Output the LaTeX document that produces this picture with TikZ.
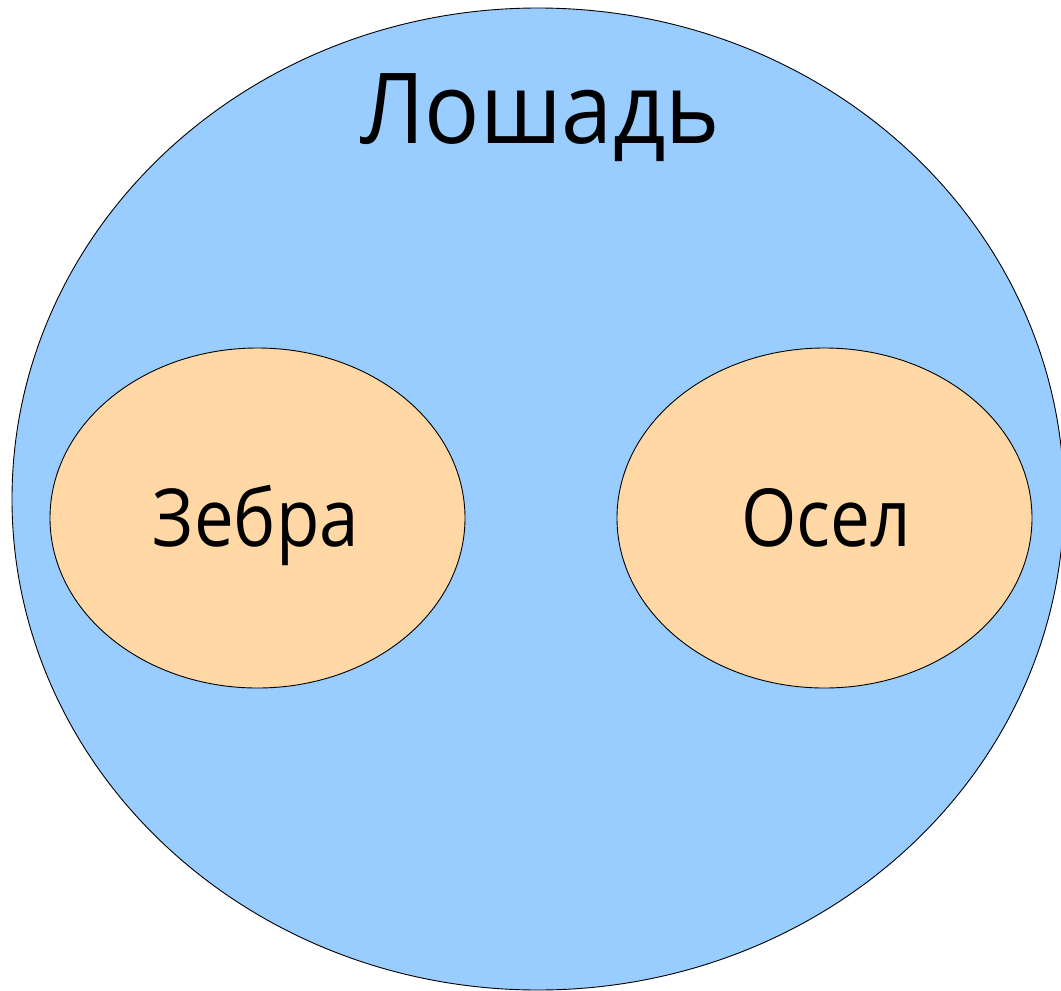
\documentclass[tikz,border=0pt]{standalone}
\usepackage{fontspec}
\setmainfont{Open Sans}
\usetikzlibrary{shapes.geometric}
\definecolor{horseblue}{HTML}{99CCFF}
\definecolor{subfill}{HTML}{FFD8A6}
\tikzset{
  outerset/.style={ellipse, draw=black, line width=0.9pt, fill=horseblue, inner sep=0pt, minimum width=1052pt, minimum height=982pt},
  innerset/.style={ellipse, draw=black, line width=0.9pt, fill=subfill, inner sep=0pt, minimum width=415pt, minimum height=340pt},
  biglabel/.style={font=\fontsize{98}{110}\selectfont, anchor=base, inner sep=0pt},
  sublabel/.style={font=\fontsize{80}{92}\selectfont, anchor=base, inner sep=0pt}
}
\begin{document}
\begin{tikzpicture}[x=1pt,y=-1pt]
\useasboundingbox (0,0) rectangle (1061,991);
\node[outerset] (horse) at (538,499) {};
\node[biglabel] (horsetxt) at (540,143) {\scalebox{0.937}[1]{Лошадь}};
\node[innerset] (zebra) at (257.5,518) {};
\node[innerset] (donkey) at (824.5,518) {};
\node[sublabel] (zebratxt) at (256,546) {\scalebox{0.886}[1]{Зебра}};
\node[sublabel] (donkeytxt) at (826,546) {\scalebox{0.89}[1]{Осел}};
\end{tikzpicture}
\end{document}
